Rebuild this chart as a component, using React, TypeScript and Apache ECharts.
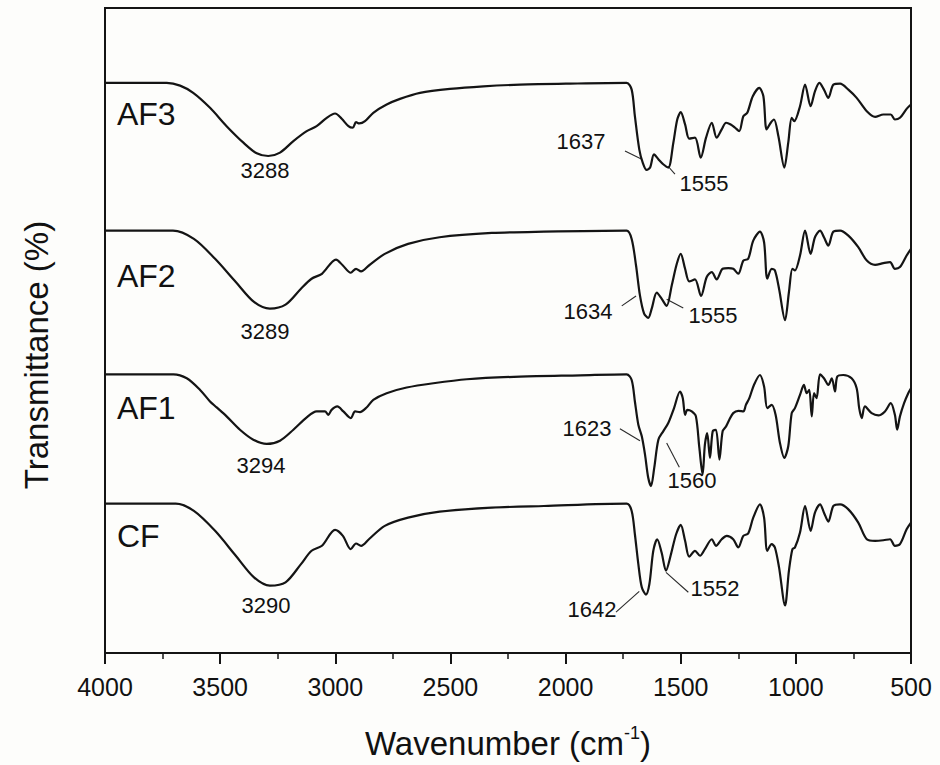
import React, { useEffect, useRef } from "react";
import * as echarts from "echarts";

const FONT = "'Liberation Sans', Arial, Helvetica, sans-serif";

// x: wavenumber (cm-1), y: offset transmittance (arbitrary units, stacked)
const AF3: [number, number][] = [
  [4000, 572.7], [3732, 572.7], [3674, 570], [3617, 562.7], [3544, 547.7], [3472, 529.3], [3399, 512.7],
  [3341, 502], [3291, 499.3], [3240, 502.7], [3182, 514.3], [3124, 524.3], [3081, 529.3], [3037, 537.7],
  [3001, 542], [2972, 536.7], [2943, 529.3], [2924, 527.7], [2910, 533.3], [2896, 532], [2871, 534.3],
  [2835, 542.7], [2777, 551], [2719, 556.7], [2632, 562.7], [2502, 566.7], [2357, 569.3], [2198, 571],
  [1981, 572], [1735, 572.7], [1713, 566], [1699, 539.3], [1680, 506], [1665, 492.7], [1648, 485.3],
  [1633, 487.7], [1616, 501], [1597, 496], [1576, 491], [1554, 487.7], [1532, 512.7], [1515, 536],
  [1500, 543.3], [1481, 531], [1463, 516.7], [1438, 517.7], [1413, 497.7], [1390, 517.7], [1365, 532.7],
  [1344, 517.7], [1322, 526], [1303, 532.7], [1283, 531], [1264, 527.7], [1246, 524.3], [1228, 539.3],
  [1211, 542.7], [1187, 559.3], [1159, 567.7], [1141, 559.3], [1127, 526], [1109, 532.7], [1095, 536],
  [1076, 519.3], [1050, 487.7], [1033, 512.7], [1018, 537.7], [1007, 534.3], [982, 549.3], [960, 571],
  [936, 549.3], [917, 564.3], [898, 572.7], [878, 566], [859, 557.7], [837, 571], [808, 572], [772, 566],
  [736, 557.7], [692, 544.3], [656, 538.7], [620, 541], [588, 541], [570, 536], [548, 537.7], [519, 546.7],
  [500, 551],
];

const AF2: [number, number][] = [
  [4000, 424.3], [3705, 424.3], [3614, 416], [3522, 396], [3432, 372.7], [3353, 352.7], [3284, 346],
  [3216, 350], [3149, 366], [3103, 376], [3058, 381], [2997, 395.3], [2967, 389.3], [2933, 382],
  [2910, 386], [2888, 383.3], [2854, 389.3], [2785, 401], [2684, 411], [2547, 417.7], [2320, 422],
  [2094, 423.3], [1735, 424.3], [1713, 416], [1694, 389.3], [1677, 359.3], [1659, 341], [1641, 336.7],
  [1626, 346], [1604, 362], [1583, 356], [1561, 348.7], [1539, 369.3], [1517, 391], [1500, 401],
  [1481, 386], [1463, 373.3], [1438, 375.3], [1412, 358.7], [1387, 377.7], [1365, 382.7], [1344, 375.3],
  [1318, 386], [1293, 386.7], [1272, 386], [1250, 381], [1228, 394.3], [1207, 396], [1185, 414.3],
  [1156, 423.3], [1138, 412.7], [1124, 376], [1105, 386], [1091, 384.3], [1073, 366], [1047, 334.3],
  [1030, 362.7], [1015, 386], [1004, 384.3], [982, 399.3], [960, 424.3], [936, 401], [917, 417.7],
  [895, 424.3], [878, 417.7], [859, 409.3], [837, 423.3], [808, 424.3], [772, 419.3], [729, 407.7],
  [692, 394.3], [656, 390], [620, 391.7], [591, 392.7], [570, 386], [548, 387.7], [519, 399.3], [500, 406],
];

const AF1: [number, number][] = [
  [4000, 280], [3703, 280], [3645, 276], [3587, 264.3], [3544, 252.7], [3515, 246.7], [3472, 237.7],
  [3414, 224.3], [3356, 214.3], [3298, 210], [3240, 213.3], [3182, 224.3], [3124, 236.7], [3081, 242.7],
  [3045, 242.7], [3030, 239.3], [3016, 244.3], [2991, 247.7], [2965, 242.7], [2933, 236], [2914, 242.7],
  [2893, 242], [2864, 246.7], [2835, 254.3], [2777, 261], [2690, 266.7], [2574, 271], [2429, 275],
  [2198, 277.7], [1937, 279], [1735, 280], [1713, 274.3], [1699, 252.7], [1684, 229.3], [1669, 217.7],
  [1655, 199.3], [1641, 176], [1629, 167.7], [1615, 186], [1597, 214.3], [1576, 222.7], [1554, 231],
  [1529, 246], [1503, 262.7], [1491, 256], [1481, 239.3], [1471, 244.3], [1452, 242.7], [1434, 237.7],
  [1419, 206], [1405, 179.3], [1395, 209.3], [1385, 221], [1373, 196], [1361, 222.7], [1347, 224.3],
  [1332, 194.3], [1318, 222.7], [1303, 227.7], [1289, 234.3], [1272, 241], [1250, 243.3], [1228, 242.7],
  [1217, 249.3], [1202, 256], [1182, 269.3], [1156, 279.3], [1138, 267.7], [1124, 246], [1105, 249.3],
  [1088, 239.3], [1069, 211], [1050, 196], [1033, 207.7], [1018, 241], [1004, 246], [982, 259.3],
  [965, 269.3], [953, 261], [942, 264.3], [931, 237.7], [921, 261], [910, 256], [895, 280], [878, 276],
  [859, 269.3], [844, 276], [830, 262.7], [820, 277.7], [794, 279.3], [758, 276], [736, 266], [725, 246],
  [714, 236], [700, 247.7], [671, 241], [642, 238.7], [613, 242.7], [588, 251], [570, 239.3], [560, 224.3],
  [548, 237.7], [530, 251], [512, 261], [500, 266],
];

const CF: [number, number][] = [
  [4000, 150], [3693, 150], [3614, 142.7], [3522, 122.7], [3432, 97.7], [3353, 76], [3284, 67.7],
  [3216, 71], [3149, 89.3], [3103, 102.7], [3058, 107.7], [3001, 123.7], [2967, 117.7], [2933, 104.3],
  [2910, 110], [2888, 107.7], [2854, 114.3], [2785, 127.7], [2684, 136], [2547, 142], [2320, 146],
  [2094, 147.7], [1735, 150], [1713, 142.7], [1699, 119.3], [1684, 89.3], [1669, 66], [1651, 58.7],
  [1636, 69.3], [1619, 102.7], [1602, 114.3], [1583, 101], [1564, 82.7], [1544, 97.7], [1520, 119.3],
  [1500, 128.7], [1481, 112.7], [1463, 96.7], [1438, 102.7], [1416, 97.7], [1395, 104.3], [1365, 114.3],
  [1347, 107.7], [1322, 114.3], [1300, 117.7], [1272, 114.3], [1250, 106], [1228, 117.7], [1207, 120],
  [1185, 136], [1156, 149.3], [1138, 136], [1124, 102.7], [1105, 109.3], [1091, 106], [1073, 86],
  [1047, 47.7], [1030, 82.7], [1015, 104.3], [1004, 106], [982, 121], [960, 147.7], [936, 122.7],
  [917, 141], [895, 149.3], [878, 141], [859, 132], [837, 147.7], [808, 149.3], [772, 144.3], [729, 131],
  [692, 114.3], [656, 112.7], [620, 113.3], [591, 114.3], [570, 107.7], [548, 109.3], [519, 124.3], [500, 131],
];

const SAMPLE_NAMES = ["AF3", "AF2", "AF1", "CF"];
const TRACES = [AF3, AF2, AF1, CF];
// anchor of each sample name (left edge, middle)
const NAME_ANCHORS: [number, number][] = [[3948, 542], [3948, 379], [3948, 246], [3948, 118]];

const PEAK_TEXTS = ["3288", "1637", "1555", "3289", "1634", "1555", "3294", "1623", "1560", "3290", "1642", "1552"];
const PEAK_ANCHORS: [number, number][] = [
  [3305, 485], [1933, 513.5], [1399, 472],
  [3305, 323], [1903, 343], [1360, 339],
  [3323, 188], [1907, 226], [1451, 173],
  [3301, 48], [1885, 44], [1351, 65],
];
const LEADERS: [number, number][][] = [
  [[1742, 504.3], [1669, 496]],
  [[1555, 489], [1525, 481]],
  [[1756, 348.7], [1694, 358.7]],
  [[1561, 355.3], [1489, 346.7]],
  [[1764, 225.3], [1677, 213.3]],
  [[1561, 211], [1506, 186.7]],
  [[1781, 41], [1680, 62]],
  [[1564, 81], [1467, 61]],
];

const X_MIN = 500;
const X_MAX = 4000;
const X_STEP = 500;
const Y_TITLE = "Transmittance (%)";

export default function App() {
  const ref = useRef<HTMLDivElement>(null);
  useEffect(() => {
    if (!ref.current) return;
    const chart = echarts.init(ref.current, null, { renderer: "svg" });
    const ink = "#141414";
    const textInk = "#111111";
    const option: any = {
      animation: false,
      backgroundColor: "#fdfdfb",
      grid: { left: 105, right: 29, top: 8, bottom: 109, show: true, borderColor: ink, borderWidth: 2, backgroundColor: "transparent" },
      xAxis: {
        type: "value",
        min: X_MIN,
        max: X_MAX,
        interval: X_STEP,
        inverse: true,
        axisLine: { show: true, lineStyle: { color: ink, width: 2 } },
        axisTick: { show: true, inside: false, length: 11, lineStyle: { color: ink, width: 2 } },
        minorTick: { show: true, splitNumber: 2, length: 6, lineStyle: { color: ink, width: 1.5 } },
        axisLabel: { fontSize: 25, color: textInk, margin: 21, fontFamily: FONT, formatter: (v: number) => String(v) },
        splitLine: { show: false },
        minorSplitLine: { show: false },
        name: "{a|Wavenumber (cm}{s|-1}{a|)}",
        nameLocation: "middle",
        nameGap: 71,
        nameTextStyle: {
          rich: {
            a: { fontSize: 33, fontFamily: FONT, color: textInk, lineHeight: 36, verticalAlign: "bottom" },
            s: { fontSize: 18, fontFamily: FONT, color: textInk, lineHeight: 36, verticalAlign: "top" },
          },
        },
      },
      yAxis: {
        type: "value",
        min: 0,
        max: 648,
        axisLine: { show: true, lineStyle: { color: ink, width: 2 } },
        axisTick: { show: false },
        axisLabel: { show: false },
        splitLine: { show: false },
      },
      graphic: [
        {
          type: "text",
          x: 36,
          y: 355,
          rotation: Math.PI / 2,
          silent: true,
          style: {
            text: Y_TITLE,
            fontSize: 33,
            fontFamily: FONT,
            fill: textInk,
            textAlign: "center",
            textVerticalAlign: "middle",
            align: "center",
            verticalAlign: "middle",
          },
        },
      ],
      series: [
        ...TRACES.map((d, i) => ({
          name: SAMPLE_NAMES[i],
          type: "line",
          data: d,
          symbol: "none",
          showSymbol: false,
          smooth: 0.3,
          silent: true,
          lineStyle: { color: ink, width: 2.2 },
        })),
        {
          type: "lines",
          coordinateSystem: "cartesian2d",
          silent: true,
          lineStyle: { color: "#2a2a2a", width: 1.1, opacity: 1 },
          data: LEADERS.map((c) => ({ coords: c })),
        },
        {
          type: "scatter",
          silent: true,
          symbolSize: 1,
          itemStyle: { color: "rgba(0,0,0,0)", opacity: 1 },
          label: { show: true, position: "inside", fontSize: 22, color: textInk, opacity: 1, fontFamily: FONT, formatter: (p: any) => p.data.t },
          data: PEAK_ANCHORS.map((a, i) => ({ value: a, t: PEAK_TEXTS[i] })),
        },
        {
          type: "scatter",
          silent: true,
          symbolSize: 1,
          itemStyle: { color: "rgba(0,0,0,0)", opacity: 1 },
          label: { show: true, position: "inside", align: "left", verticalAlign: "middle", fontSize: 32, color: textInk, opacity: 1, fontFamily: FONT, formatter: (p: any) => p.data.t },
          data: NAME_ANCHORS.map((a, i) => ({ value: a, t: SAMPLE_NAMES[i] })),
        },
      ],
    };
    chart.setOption(option);
    return () => chart.dispose();
  }, []);
  return <div ref={ref} style={{ position: "fixed", left: 0, top: 0, width: 940, height: 765, background: "#fdfdfb" }} />;
}
